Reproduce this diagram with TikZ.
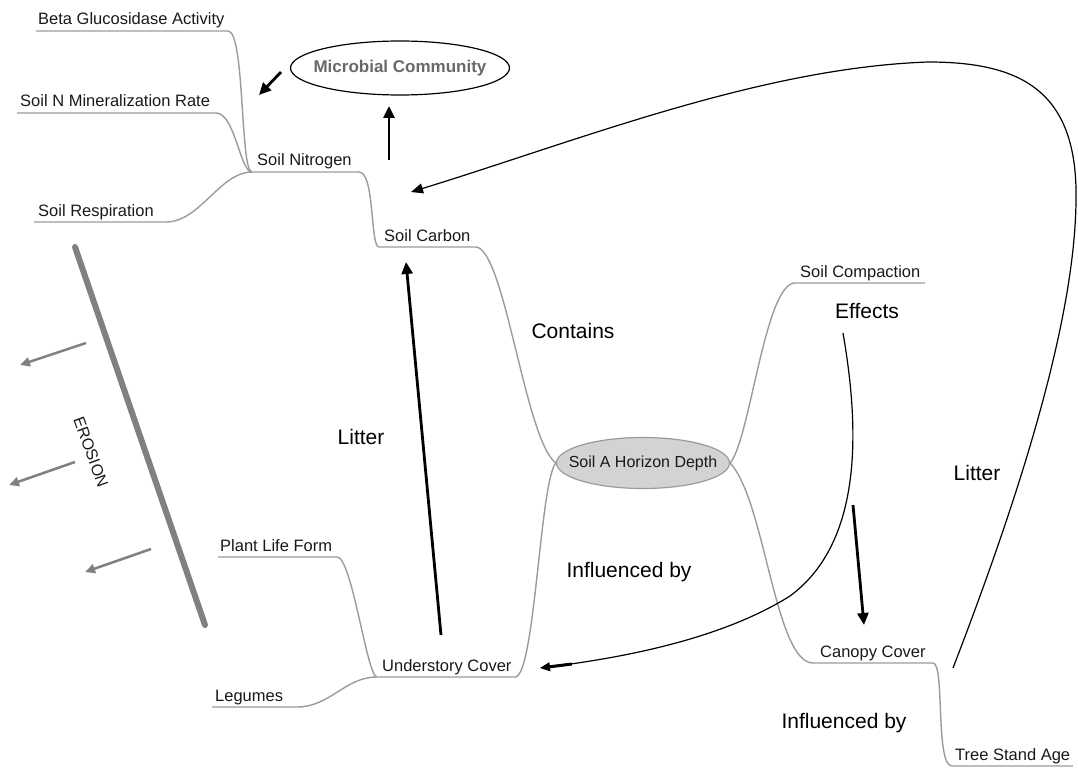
\documentclass[tikz,border=0pt]{standalone}
\usepackage{fontspec}
\setmainfont{Liberation Sans}
\usetikzlibrary{arrows.meta,shapes.geometric}

\definecolor{branchgray}{RGB}{155,155,155}
\definecolor{erosiongray}{RGB}{128,128,128}
\definecolor{microgray}{RGB}{105,105,105}
\definecolor{hubfill}{RGB}{211,211,211}
\definecolor{inkblack}{RGB}{25,25,25}

\tikzset{
  lbl/.style={anchor=base west, inner sep=0pt, text=inkblack, font=\fontsize{16.5}{18}\selectfont},
  biglbl/.style={anchor=base, inner sep=0pt, text=black, font=\fontsize{21}{24}\selectfont},
  branch/.style={draw=branchgray, line width=1.4pt},
  flow/.style={draw=black, line width=2.8pt, -{Triangle[length=12pt,width=11pt]}},
  loopline/.style={draw=black, line width=1.2pt},
  washout/.style={draw=erosiongray, line width=2.5pt, -{Triangle[length=10pt,width=9pt]}},
  hubnode/.style={ellipse, draw=branchgray, line width=1.2pt, fill=hubfill,
    inner xsep=-14pt, inner ysep=0pt,
    minimum width=173pt, minimum height=51pt, text=inkblack, font=\fontsize{16}{18}\selectfont},
  topicnode/.style={ellipse, draw=black, line width=1.2pt,
    inner xsep=-9pt, inner ysep=0pt,
    minimum width=219pt, minimum height=54pt, text=microgray, font=\fontsize{17}{20}\selectfont\bfseries}
}

\begin{document}
\begin{tikzpicture}[x=1pt, y={(0,-1pt)}]
  \useasboundingbox (0,0) rectangle (1078,770);

  % central topic and the separate microbial topic
  \node[hubnode] (hub) at (643,463) {Soil A Horizon Depth};
  \node[topicnode] (micro) at (400,68) {Microbial Community};

  % underline ends of every branch label
  \coordinate (beta-l) at (36,31);    \coordinate (beta-r) at (228,31);
  \coordinate (nmin-l) at (17,113);   \coordinate (nmin-r) at (216,113);
  \coordinate (resp-l) at (34,222);   \coordinate (resp-r) at (166,222);
  \coordinate (nit-l) at (252,172);   \coordinate (nit-r) at (359,172);
  \coordinate (carb-l) at (379,247);  \coordinate (carb-r) at (476,247);
  \coordinate (comp-l) at (795,283);  \coordinate (comp-r) at (925,283);
  \coordinate (under-l) at (377,677); \coordinate (under-r) at (515,677);
  \coordinate (plant-l) at (218,557); \coordinate (plant-r) at (337,557);
  \coordinate (leg-l) at (212,707);   \coordinate (leg-r) at (297,707);
  \coordinate (can-l) at (813,663);   \coordinate (can-r) at (933,663);
  \coordinate (tree-l) at (952,766);  \coordinate (tree-r) at (1073,766);

  % branch labels
  \node[lbl] (beta) at (38,25) {Beta Glucosidase Activity};
  \node[lbl] (nmin) at (20,107) {Soil N Mineralization Rate};
  \node[lbl] (resp) at (38,216) {Soil Respiration};
  \node[lbl] (nit) at (257,166) {Soil Nitrogen};
  \node[lbl] (carb) at (384,241) {Soil Carbon};
  \node[lbl] (comp) at (800,277) {Soil Compaction};
  \node[lbl] (under) at (382,671) {Understory Cover};
  \node[lbl] (plant) at (220,551) {Plant Life Form};
  \node[lbl] (leg) at (215,701) {Legumes};
  \node[lbl] (can) at (820,657) {Canopy Cover};
  \node[lbl] (tree) at (955,760) {Tree Stand Age};

  % branches
  \draw[branch] (beta-l) -- (beta-r) .. controls (245,31) and (240,172) .. (nit-l);
  \draw[branch] (nmin-l) -- (nmin-r) .. controls (235,113) and (240,172) .. (nit-l);
  \draw[branch] (resp-l) -- (resp-r) .. controls (200,222) and (220,172) .. (nit-l);
  \draw[branch] (nit-l) -- (nit-r) .. controls (375,172) and (370,247) .. (carb-l);
  \draw[branch] (carb-l) -- (carb-r) .. controls (505,250) and (525,440) .. (hub.west);
  \draw[branch] (hub.west) .. controls (540,480) and (535,677) .. (under-r) -- (under-l);
  \draw[branch] (plant-l) -- (plant-r) .. controls (352,557) and (367,677) .. (under-l);
  \draw[branch] (leg-l) -- (leg-r) .. controls (330,707) and (345,677) .. (under-l);
  \draw[branch] (hub.east) .. controls (750,440) and (765,283) .. (comp-l) -- (comp-r);
  \draw[branch] (hub.east) .. controls (765,500) and (775,663) .. (can-l) -- (can-r)
    .. controls (945,663) and (935,766) .. (tree-l) -- (tree-r);

  % relation labels
  \node[biglbl] (contains) at (573,338) {Contains};
  \node[biglbl] (litterA) at (361,444) {Litter};
  \node[biglbl] (effects) at (867,318) {Effects};
  \node[biglbl] (litterB) at (977,480) {Litter};
  \node[biglbl] (inflA) at (629,577) {Influenced by};
  \node[biglbl] (inflB) at (844,728) {Influenced by};

  % straight flow arrows
  \coordinate (mc-tail) at (281,72);   \coordinate (mc-head) at (259,95);
  \coordinate (up-tail) at (389,160);  \coordinate (up-head) at (389,106);
  \coordinate (lit-tail) at (441,635); \coordinate (lit-head) at (406,262);
  \coordinate (can-tail) at (853,505); \coordinate (can-head) at (864,625);
  \draw[flow] (mc-tail) -- (mc-head);
  \draw[flow] (up-tail) -- (up-head);
  \draw[flow] (lit-tail) -- (lit-head);
  \draw[flow] (can-tail) -- (can-head);

  % long litter loop from the canopy back to soil carbon
  \coordinate (loop-tail) at (953,668); \coordinate (loop-head) at (411,192);
  \draw[loopline, -{Triangle[length=12pt,width=10pt]}] (loop-tail)
    .. controls (1010,520) and (1075,330) .. (1076,200)
    .. controls (1078,90) and (1020,62) .. (928,62)
    .. controls (760,68) and (580,140) .. (loop-head);

  % compaction effects onto the understory
  \coordinate (eff-tail) at (843,333); \coordinate (eff-head) at (540,668);
  \draw[loopline, -{Rectangle[length=22pt,width=3pt,sep=0pt]Triangle[length=10pt,width=9pt]}] (eff-tail)
    .. controls (858,420) and (866,540) .. (790,596)
    .. controls (720,640) and (620,658) .. (eff-head);

  % erosion barrier and wash-out arrows
  \coordinate (bar-top) at (75,247); \coordinate (bar-bot) at (205,625);
  \draw[draw=erosiongray, line width=6pt, line cap=round] (bar-top) -- (bar-bot);
  \node[inner sep=0pt, rotate=-70, text=inkblack, font=\fontsize{16}{18}\selectfont] (erosion) at (91,452) {EROSION};
  \coordinate (w1-tail) at (86,343);  \coordinate (w1-head) at (20,365);
  \coordinate (w2-tail) at (75,462);  \coordinate (w2-head) at (9,485);
  \coordinate (w3-tail) at (151,549); \coordinate (w3-head) at (85,572);
  \draw[washout] (w1-tail) -- (w1-head);
  \draw[washout] (w2-tail) -- (w2-head);
  \draw[washout] (w3-tail) -- (w3-head);
\end{tikzpicture}
\end{document}
